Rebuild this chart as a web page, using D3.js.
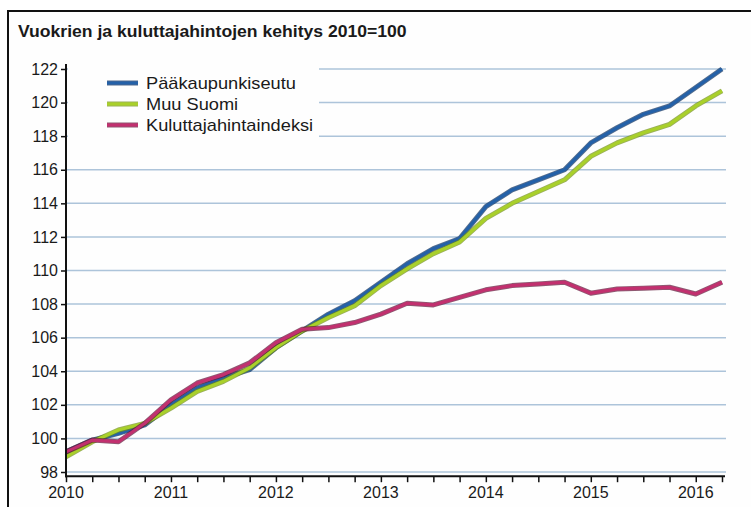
<!DOCTYPE html>
<html>
<head>
<meta charset="utf-8" />
<title>Vuokrien ja kuluttajahintojen kehitys</title>
<style>
  body { margin: 0; background: #fff; }
  svg { display: block; font-family: Arial, "Liberation Sans", sans-serif; }
</style>
</head>
<body>
<svg width="751" height="507"></svg>
<script src="https://cdn.jsdelivr.net/npm/d3@7/dist/d3.min.js"></script>
<script>
// neljännesvuodet 2010Q1 ... 2016Q2
var quarters = ["2010Q1","2010Q2","2010Q3","2010Q4","2011Q1","2011Q2","2011Q3","2011Q4",
  "2012Q1","2012Q2","2012Q3","2012Q4","2013Q1","2013Q2","2013Q3","2013Q4",
  "2014Q1","2014Q2","2014Q3","2014Q4","2015Q1","2015Q2","2015Q3","2015Q4",
  "2016Q1","2016Q2"];

var paakaupunkiseutu = [99.2, 99.9, 100.3, 100.8, 102.0, 103.0, 103.6, 104.1,
  105.4, 106.4, 107.4, 108.2, 109.3, 110.4, 111.3, 111.9,
  113.8, 114.8, 115.4, 116.0, 117.6, 118.5, 119.3, 119.8,
  120.9, 122.0];
var muuSuomi = [98.9, 99.8, 100.5, 100.9, 101.8, 102.8, 103.4, 104.2,
  105.4, 106.4, 107.2, 107.9, 109.1, 110.1, 111.0, 111.7,
  113.1, 114.0, 114.7, 115.4, 116.8, 117.6, 118.2, 118.7,
  119.8, 120.7];
var kuluttajahinnat = [99.2, 99.9, 99.8, 100.9, 102.3, 103.3, 103.8, 104.5,
  105.7, 106.5, 106.6, 106.9, 107.4, 108.05, 107.95, 108.4,
  108.85, 109.1, 109.2, 109.3, 108.65, 108.9, 108.95, 109.0,
  108.6, 109.3];

var yearLabels = ["2010", "2011", "2012", "2013", "2014", "2015", "2016"];
var yTicks = [98, 100, 102, 104, 106, 108, 110, 112, 114, 116, 118, 120, 122];

var series = [
  { name: "Pääkaupunkiseutu", values: paakaupunkiseutu, color: "#2461a8", edge: "#0d2f5c" },
  { name: "Muu Suomi", values: muuSuomi, color: "#a9d02a", edge: "#6f8f14" },
  { name: "Kuluttajahintaindeksi", values: kuluttajahinnat, color: "#c2306f", edge: "#5e1436" }
];

function qToYear(q) {
  return +q.slice(0, 4) + (+q.slice(5) - 1) / 4;
}

var svg = d3.select("svg");

// kehys
svg.append("rect")
  .attr("x", 8).attr("y", 11)
  .attr("width", 780).attr("height", 540)
  .attr("fill", "#fefefe")
  .attr("stroke", "#111").attr("stroke-width", 2);

svg.append("text")
  .attr("transform", "translate(18,37) scale(1.1,1)")
  .attr("font-size", 16).attr("font-weight", "bold")
  .attr("fill", "#1a1a1a")
  .text("Vuokrien ja kuluttajahintojen kehitys 2010=100");

var x = d3.scaleLinear().domain([2010, 2016.25]).range([66, 722]);
var y = d3.scaleLinear().domain([98, 122]).range([472, 69]);
var axisY = y(97.75);

// vaakaviivat
svg.append("g").selectAll("line")
  .data(yTicks).enter().append("line")
  .attr("x1", x(2010)).attr("x2", x(2016.25) + 4)
  .attr("y1", function(d) { return y(d); })
  .attr("y2", function(d) { return y(d); })
  .attr("stroke", "#adc4da").attr("stroke-width", 1.5);

// selitteen tausta peittää viivat
svg.append("rect")
  .attr("x", x(2010) + 2).attr("y", 62)
  .attr("width", 251).attr("height", 82)
  .attr("fill", "#fefefe");

var line = d3.line()
  .x(function(d, i) { return x(qToYear(quarters[i])); })
  .y(function(d) { return y(d); });

series.forEach(function(s) {
  svg.append("path")
    .attr("d", line(s.values))
    .attr("fill", "none")
    .attr("stroke", s.edge).attr("stroke-width", 5)
    .attr("stroke-linejoin", "round").attr("opacity", 0.7);
  svg.append("path")
    .attr("d", line(s.values))
    .attr("fill", "none")
    .attr("stroke", s.color).attr("stroke-width", 3.2)
    .attr("stroke-linejoin", "round");
});

// y-akseli
var gy = svg.append("g")
  .attr("transform", "translate(" + x(2010) + ",0)")
  .call(d3.axisLeft(y).tickValues(yTicks).tickSize(5).tickPadding(3).tickFormat(d3.format("d")));
gy.select(".domain").remove();
gy.selectAll("text").attr("font-size", 16).attr("fill", "#1a1a1a").attr("font-family", "Arial, sans-serif");
gy.selectAll(".tick line").attr("stroke", "#111").attr("stroke-width", 1.5);
svg.append("line")
  .attr("x1", x(2010)).attr("x2", x(2010))
  .attr("y1", 64).attr("y2", axisY + 1)
  .attr("stroke", "#111").attr("stroke-width", 2);

// x-akseli
var quarterTicks = quarters.map(qToYear);
var gx = svg.append("g")
  .attr("transform", "translate(0," + axisY + ")")
  .call(d3.axisBottom(x).tickValues(quarterTicks).tickSize(6).tickFormat(""));
gx.select(".domain").remove();
gx.selectAll(".tick line").attr("stroke", "#111").attr("stroke-width", 1.5);
svg.append("line")
  .attr("x1", x(2010) - 1).attr("x2", x(2016.25) + 3)
  .attr("y1", axisY).attr("y2", axisY)
  .attr("stroke", "#111").attr("stroke-width", 2);

svg.append("g").selectAll("text")
  .data(yearLabels).enter().append("text")
  .attr("x", function(d) { return x(+d); })
  .attr("y", 498)
  .attr("text-anchor", "middle")
  .attr("font-size", 16).attr("fill", "#1a1a1a")
  .text(function(d) { return d; });

// selite
var legend = svg.append("g").selectAll("g")
  .data(series).enter().append("g")
  .attr("transform", function(d, i) { return "translate(107," + (83 + i * 21) + ")"; });
legend.append("line")
  .attr("x1", 0).attr("x2", 31)
  .attr("stroke", function(d) { return d.edge; }).attr("stroke-width", 5).attr("opacity", 0.7);
legend.append("line")
  .attr("x1", 0).attr("x2", 31)
  .attr("stroke", function(d) { return d.color; }).attr("stroke-width", 3.2);
legend.append("text")
  .attr("transform", "translate(39,0) scale(1.14,1)")
  .attr("dy", "0.36em")
  .attr("font-size", 16).attr("fill", "#1a1a1a")
  .text(function(d) { return d.name; });
</script>
</body>
</html>
